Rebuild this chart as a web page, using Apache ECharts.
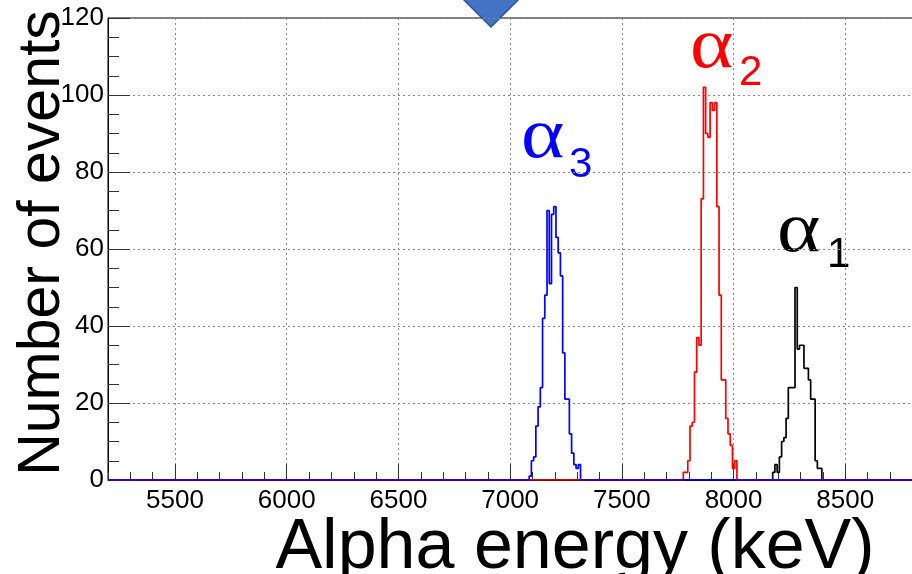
<!DOCTYPE html>
<html>
<head>
<meta charset="utf-8">
<script src="https://cdn.jsdelivr.net/npm/echarts@6/dist/echarts.min.js"></script>
<style>
  html, body { margin: 0; padding: 0; background: #fff; }
  #chart { width: 912px; height: 574px; }
</style>
</head>
<body>
<div id="chart"></div>
<script>
// histogram data, bins of 10 keV
var binWidth = 10;
var xMin = 5200;
var xMax = 9000;

var alpha3Start = 7085;
var alpha3Counts = [1, 5, 6, 14, 19, 24, 42, 48, 70, 51, 69, 71, 63, 59, 53, 33, 21, 21, 12, 7, 4, 3, 4];

var alpha2Start = 7775;
var alpha2Counts = [2, 2, 5, 14, 15, 28, 37, 35, 73, 102, 90, 89, 98, 96, 98, 71, 48, 26, 26, 16, 12, 9, 3, 5];

var alpha1Start = 8175;
var alpha1Counts = [2, 4, 2, 6, 10, 11, 16, 24, 24, 24, 50, 34, 35, 35, 29, 29, 26, 21, 21, 5, 3, 3];

function histPoints(start, counts) {
  var pts = [[xMin, 0]];
  for (var i = 0; i < counts.length; i++) {
    pts.push([start + i * binWidth, counts[i]]);
  }
  pts.push([start + counts.length * binWidth, 0]);
  pts.push([xMax, 0]);
  return pts;
}

var gridColor = '#8c8c8c';
var font = 'Liberation Sans';

var chart = echarts.init(document.getElementById('chart'));
chart.setOption({
  animation: false,
  grid: {
    left: 108,
    top: 18,
    right: -45,
    bottom: 94,
    outerBoundsMode: 'none',
    containLabel: false,
    show: true,
    borderColor: '#000',
    borderWidth: 1
  },
  xAxis: [{
    type: 'value',
    min: xMin,
    max: xMax,
    splitNumber: 7,
    axisLine: { lineStyle: { color: '#000', width: 1 } },
    axisTick: { inside: true, length: 16, lineStyle: { color: '#333' } },
    axisLabel: {
      showMinLabel: false,
      margin: 8,
      fontFamily: font,
      fontSize: 26,
      color: '#000',
      formatter: function (v) { return String(v); }
    },
    splitLine: { lineStyle: { color: gridColor, type: [2, 3], width: 1 } }
  }, {
    // minor ticks every 100 keV
    type: 'value',
    min: xMin,
    max: xMax,
    interval: 100,
    position: 'bottom',
    axisLine: { show: false },
    axisTick: { inside: true, length: 8, lineStyle: { color: '#333' } },
    axisLabel: { show: false },
    splitLine: { show: false }
  }],
  yAxis: {
    type: 'value',
    min: 0,
    max: 120,
    interval: 20,
    axisLine: { show: true, lineStyle: { color: '#000', width: 1 } },
    axisTick: { show: true, inside: true, length: 22, lineStyle: { color: '#333' } },
    minorTick: { show: true, splitNumber: 4, length: 11, lineStyle: { color: '#333' } },
    axisLabel: {
      margin: 4,
      fontFamily: font,
      fontSize: 26,
      color: '#000'
    },
    splitLine: { lineStyle: { color: gridColor, type: [2, 3], width: 1 } }
  },
  series: [{
    type: 'line',
    step: 'end',
    showSymbol: false,
    symbol: 'none',
    z: 3,
    lineStyle: { color: '#000000', width: 1.7 },
    data: histPoints(alpha1Start, alpha1Counts)
  }, {
    type: 'line',
    step: 'end',
    showSymbol: false,
    symbol: 'none',
    z: 4,
    lineStyle: { color: '#ff0000', width: 1.7 },
    data: histPoints(alpha2Start, alpha2Counts)
  }, {
    type: 'line',
    step: 'end',
    showSymbol: false,
    symbol: 'none',
    z: 5,
    lineStyle: { color: '#0000ff', width: 1.7 },
    data: histPoints(alpha3Start, alpha3Counts)
  }],
  graphic: [
    {
      type: 'polygon',
      shape: { points: [[491, -69], [539, -21], [491, 27], [443, -21]] },
      style: { fill: '#4472c4', stroke: '#2f528f', lineWidth: 1.5 }
    },
    {
      type: 'text',
      x: 43,
      y: 243,
      rotation: Math.PI / 2,
      style: {
        text: 'Number of events',
        font: '59px "Liberation Sans"',
        fill: '#000',
        align: 'center',
        verticalAlign: 'middle'
      }
    },
    {
      type: 'text',
      x: 575,
      y: 549,
      style: {
        text: 'Alpha energy (keV)',
        font: '70px "Liberation Sans"',
        fill: '#000',
        align: 'center',
        verticalAlign: 'middle'
      }
    },
    { type: 'text', x: 521, y: 138, scaleX: 1.15, style: { text: 'α', font: '72px "Liberation Serif"', fill: '#0000ff', align: 'left', verticalAlign: 'middle' } },
    { type: 'text', x: 569, y: 165, style: { text: '3', font: '42px "Liberation Sans"', fill: '#0000ff', align: 'left', verticalAlign: 'middle' } },
    { type: 'text', x: 690, y: 48, scaleX: 1.15, style: { text: 'α', font: '72px "Liberation Serif"', fill: '#ff0000', align: 'left', verticalAlign: 'middle' } },
    { type: 'text', x: 739, y: 73, style: { text: '2', font: '42px "Liberation Sans"', fill: '#ff0000', align: 'left', verticalAlign: 'middle' } },
    { type: 'text', x: 777, y: 232, scaleX: 1.15, style: { text: 'α', font: '72px "Liberation Serif"', fill: '#000', align: 'left', verticalAlign: 'middle' } },
    { type: 'text', x: 827, y: 255, style: { text: '1', font: '42px "Liberation Sans"', fill: '#000', align: 'left', verticalAlign: 'middle' } }
  ]
});
</script>
</body>
</html>
